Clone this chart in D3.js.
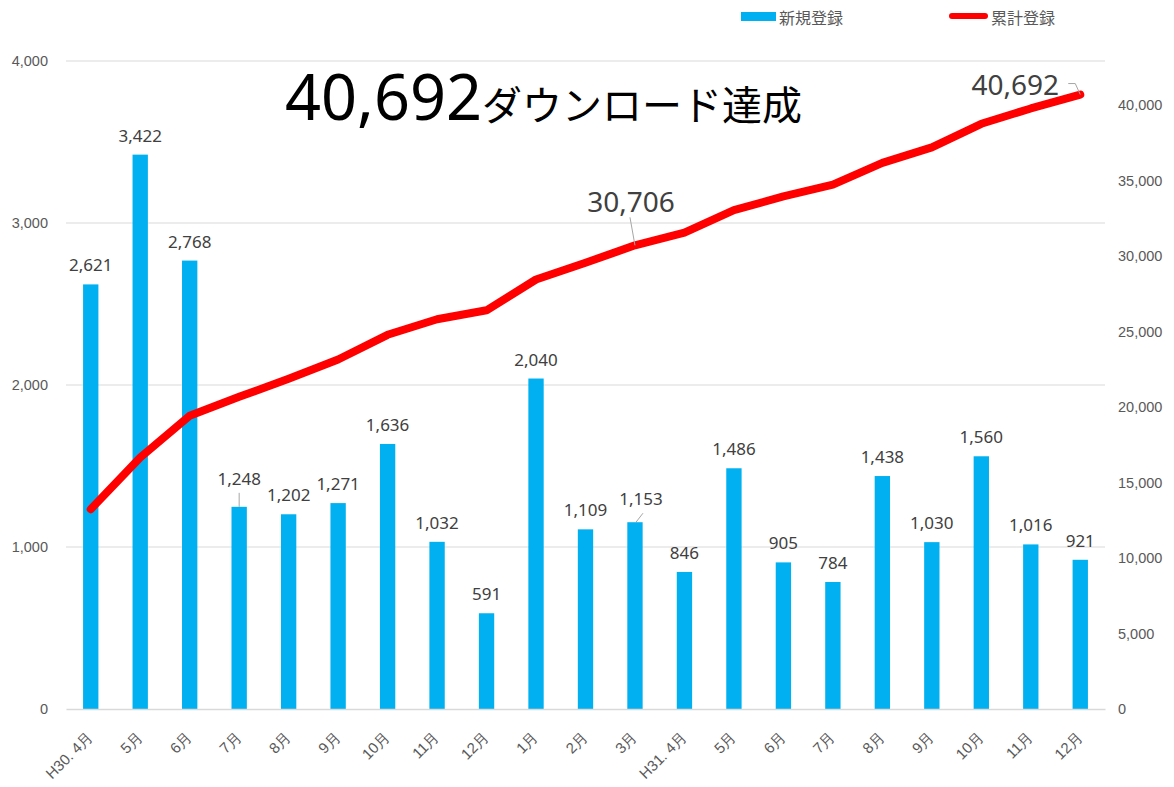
<!DOCTYPE html>
<html>
<head>
<meta charset="utf-8">
<script src="https://cdn.jsdelivr.net/npm/d3@7"></script>
<style>
  body { margin: 0; background: #fff; }
  svg { display: block; font-family: "Noto Sans", "Noto Sans CJK JP", sans-serif; }
</style>
</head>
<body>
<div id="chart"></div>
<script>
const width = 1174;
const height = 787;

// data
const months = ["H30. 4月", "5月", "6月", "7月", "8月", "9月", "10月", "11月", "12月", "1月", "2月", "3月",
    "H31. 4月", "5月", "6月", "7月", "8月", "9月", "10月", "11月", "12月"];
const newRegs = [2621, 3422, 2768, 1248, 1202, 1271, 1636, 1032, 591, 2040, 1109, 1153,
    846, 1486, 905, 784, 1438, 1030, 1560, 1016, 921];
const totalRegs = [13234, 16656, 19424, 20672, 21874, 23145, 24781, 25813, 26404, 28444, 29553, 30706,
    31552, 33038, 33943, 34727, 36165, 37195, 38755, 39771, 40692];
const leftTicks = [0, 1000, 2000, 3000, 4000];
const rightTicks = [0, 5000, 10000, 15000, 20000, 25000, 30000, 35000, 40000];
const seriesNames = ["新規登録", "累計登録"];
const titleNumber = "40,692";
const titleText = "ダウンロード達成";

const plot = { left: 66, right: 1105, top: 61, bottom: 709 };

const svg = d3.select("#chart")
    .append("svg")
    .attr("width", width)
    .attr("height", height);

const x = d3.scaleBand()
    .domain(d3.range(months.length))
    .range([plot.left, plot.right])
    .paddingInner(0.69)
    .paddingOuter(0.345);

const yL = d3.scaleLinear().domain([0, 4000]).range([plot.bottom, plot.top]);
const yR = d3.scaleLinear().domain([0, 42914]).range([plot.bottom, plot.top]);
const fmt = d3.format(",");
const cx = i => x(i) + x.bandwidth() / 2;

// gridlines
svg.append("g")
    .selectAll("line")
    .data(leftTicks.slice(1))
    .enter()
    .append("line")
    .attr("x1", plot.left)
    .attr("x2", plot.right)
    .attr("y1", d => yL(d))
    .attr("y2", d => yL(d))
    .attr("stroke", "#d9d9d9")
    .attr("stroke-width", 1);

// left axis
const leftAxis = svg.append("g")
    .attr("transform", `translate(${plot.left},0)`)
    .call(d3.axisLeft(yL).tickValues(leftTicks).tickFormat(fmt).tickSize(0).tickPadding(18));
leftAxis.select(".domain").remove();
leftAxis.selectAll("text")
    .style("font-size", "14.5px")
    .attr("fill", "#595959");

// right axis
const rightAxis = svg.append("g")
    .attr("transform", `translate(${plot.right},0)`)
    .call(d3.axisRight(yR).tickValues(rightTicks).tickFormat(fmt).tickSize(0).tickPadding(13));
rightAxis.select(".domain").remove();
rightAxis.selectAll("text")
    .style("font-size", "14.5px")
    .attr("fill", "#595959");

// bars
svg.append("g")
    .selectAll("rect")
    .data(newRegs)
    .enter()
    .append("rect")
    .attr("x", (d, i) => x(i))
    .attr("y", d => yL(d))
    .attr("width", x.bandwidth())
    .attr("height", d => plot.bottom - yL(d))
    .attr("fill", "#00b0f0");

// bottom axis
const bottomAxis = svg.append("g")
    .attr("transform", `translate(0,${plot.bottom})`)
    .call(d3.axisBottom(x).tickFormat(i => months[i]).tickSize(0));
bottomAxis.select(".domain")
    .attr("stroke", "#d9d9d9")
    .attr("stroke-width", 1.5);
bottomAxis.selectAll("text")
    .attr("transform", "translate(3,29) rotate(-45)")
    .attr("y", 0)
    .attr("dy", 0)
    .attr("text-anchor", "end")
    .style("font-size", "15px")
    .attr("fill", "#595959");

// bar value labels (a couple nudged like in the original)
const nudges = { 3: { dx: 0, dy: -9 }, 11: { dx: 6, dy: -4 } };
svg.append("g")
    .selectAll("text")
    .data(newRegs)
    .enter()
    .append("text")
    .attr("x", (d, i) => cx(i) + (nudges[i] ? nudges[i].dx : 0))
    .attr("y", (d, i) => yL(d) - 13 + (nudges[i] ? nudges[i].dy : 0))
    .attr("text-anchor", "middle")
    .style("font-size", "17px")
    .attr("fill", "#404040")
    .text(d => fmt(d));

// leader lines for nudged labels
svg.append("line")
    .attr("x1", cx(3)).attr("x2", cx(3))
    .attr("y1", yL(newRegs[3]) - 14).attr("y2", yL(newRegs[3]))
    .attr("stroke", "#a6a6a6").attr("stroke-width", 1);
svg.append("line")
    .attr("x1", cx(11) + 8).attr("y1", yL(newRegs[11]) - 9)
    .attr("x2", cx(11) + 1).attr("y2", yL(newRegs[11]))
    .attr("stroke", "#a6a6a6").attr("stroke-width", 1);

// cumulative line
const line = d3.line()
    .x((d, i) => cx(i))
    .y(d => yR(d));

svg.append("path")
    .datum(totalRegs)
    .attr("d", line)
    .attr("fill", "none")
    .attr("stroke", "#ff0000")
    .attr("stroke-width", 8)
    .attr("stroke-linejoin", "round")
    .attr("stroke-linecap", "round");

// line labels
const p11 = [cx(11), yR(totalRegs[11])];
svg.append("line")
    .attr("x1", p11[0] - 5).attr("y1", p11[1] - 28)
    .attr("x2", p11[0]).attr("y2", p11[1])
    .attr("stroke", "#a6a6a6").attr("stroke-width", 1);
svg.append("text")
    .attr("x", p11[0] - 4)
    .attr("y", p11[1] - 33)
    .attr("text-anchor", "middle")
    .style("font-size", "28px")
    .attr("fill", "#404040")
    .text(fmt(totalRegs[11]));

const p20 = [cx(20), yR(totalRegs[20])];
svg.append("polyline")
    .attr("points", `${p20[0] - 12},${p20[1] - 11} ${p20[0] - 5},${p20[1] - 11} ${p20[0]},${p20[1]}`)
    .attr("fill", "none")
    .attr("stroke", "#a6a6a6").attr("stroke-width", 1);
svg.append("text")
    .attr("x", p20[0] - 65)
    .attr("y", p20[1])
    .attr("text-anchor", "middle")
    .style("font-size", "28px")
    .attr("fill", "#404040")
    .text(fmt(totalRegs[20]));

// title
const title = svg.append("text")
    .attr("x", 285)
    .attr("y", 120)
    .attr("fill", "#000");
title.append("tspan")
    .style("font-size", "63px")
    .text(titleNumber);
title.append("tspan")
    .attr("font-family", "Noto Sans CJK JP")
    .style("font-size", "40px")
    .text(titleText);

// legend
const legend = svg.append("g");
legend.append("rect")
    .attr("x", 741).attr("y", 12)
    .attr("width", 35).attr("height", 9)
    .attr("fill", "#00b0f0");
legend.append("text")
    .attr("x", 779).attr("y", 17)
    .attr("dominant-baseline", "central")
    .attr("font-family", "Noto Sans CJK JP")
    .style("font-size", "16px")
    .attr("fill", "#595959")
    .text(seriesNames[0]);
legend.append("line")
    .attr("x1", 952).attr("x2", 985)
    .attr("y1", 16).attr("y2", 16)
    .attr("stroke", "#ff0000")
    .attr("stroke-width", 6)
    .attr("stroke-linecap", "round");
legend.append("text")
    .attr("x", 991).attr("y", 17)
    .attr("dominant-baseline", "central")
    .attr("font-family", "Noto Sans CJK JP")
    .style("font-size", "16px")
    .attr("fill", "#595959")
    .text(seriesNames[1]);
</script>
</body>
</html>
